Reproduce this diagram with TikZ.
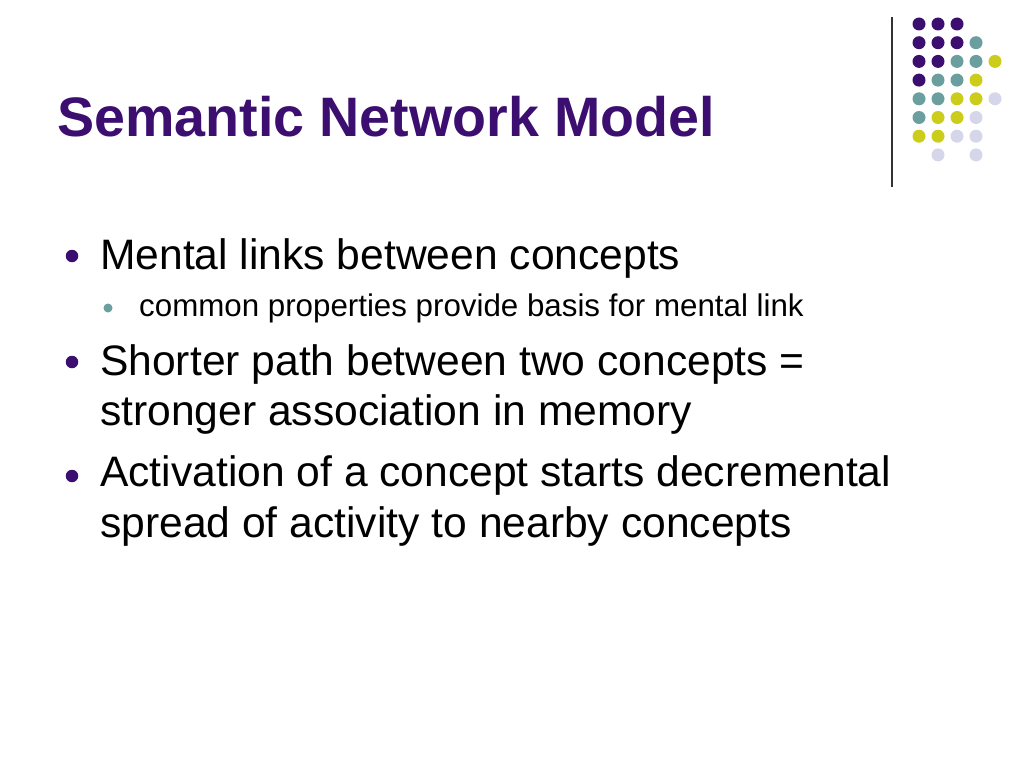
\documentclass[tikz,border=0pt]{standalone}
\usepackage{fontspec}
\setmainfont{Liberation Sans}
\definecolor{dP}{RGB}{59,14,112}
\definecolor{dT}{RGB}{107,158,158}
\definecolor{dY}{RGB}{204,204,26}
\definecolor{dL}{RGB}{214,214,234}
\tikzset{
  titletext/.style={anchor=base west, inner sep=0pt, text=dP, font=\fontsize{55.6}{66}\selectfont\bfseries},
  mainline/.style={anchor=base west, inner sep=0pt, font=\fontsize{42.6}{50}\selectfont},
  subline/.style={anchor=base west, inner sep=0pt, font=\fontsize{31.3}{37}\selectfont},
  mainbullet/.style={circle, fill=dP, inner sep=0pt, minimum size=12.5pt},
  subbullet/.style={circle, fill=dT, inner sep=0pt, minimum size=9pt},
}
\begin{document}
\begin{tikzpicture}[x=1pt,y=-1pt]
\useasboundingbox[fill=white] (0,0) rectangle (1024,768);
% decorative rule and dot grid
\draw[line width=1.5pt, draw=black!80] (892,17) -- (892,187);
\foreach \cx/\ry/\cl in {
  0/0/dP,1/0/dP,2/0/dP,
  0/1/dP,1/1/dP,2/1/dP,3/1/dT,
  0/2/dP,1/2/dP,2/2/dT,3/2/dT,4/2/dY,
  0/3/dP,1/3/dT,2/3/dT,3/3/dY,
  0/4/dT,1/4/dT,2/4/dY,3/4/dY,4/4/dL,
  0/5/dT,1/5/dY,2/5/dY,3/5/dL,
  0/6/dY,1/6/dY,2/6/dL,3/6/dL,
  1/7/dL,3/7/dL}
  \fill[\cl] (919+19*\cx, 24+18.7*\ry) circle[radius=6.5pt];
% title
\node[titletext] (title) at (57,136) {Semantic Network Model};
% bullets
\node[mainbullet] (b1) at (72,256) {};
\node[mainline] (t1) at (100,269) {Mental links between concepts};
\node[subbullet] (b1a) at (108,308) {};
\node[subline] (t1a) at (139,316) {common properties provide basis for mental link};
\node[mainbullet] (b2) at (72,362) {};
\node[mainline] (t2a) at (100,375) {Shorter path between two concepts =};
\node[mainline] (t2b) at (100,425) {stronger association in memory};
\node[mainbullet] (b3) at (72,476) {};
\node[mainline] (t3a) at (100,486) {Activation of a concept starts decremental};
\node[mainline] (t3b) at (100,537) {spread of activity to nearby concepts};
\end{tikzpicture}
\end{document}
